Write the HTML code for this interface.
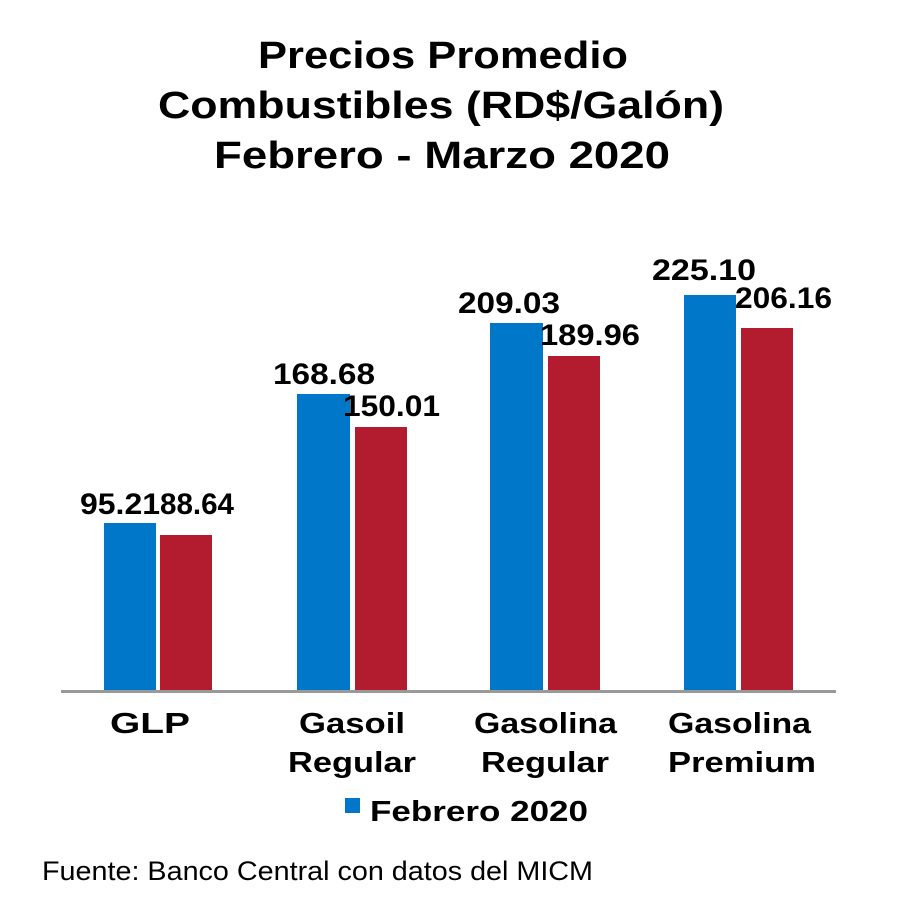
<!DOCTYPE html>
<html><head><style>body{margin:0;background:#fff}</style></head><body>
<svg width="909" height="909" xmlns="http://www.w3.org/2000/svg" font-family="Liberation Sans, sans-serif">
<rect width="909" height="909" fill="#fff"/>
<g font-weight="bold" font-size="38" fill="#000" lengthAdjust="spacingAndGlyphs">
<text x="258" y="68" textLength="370" lengthAdjust="spacingAndGlyphs">Precios Promedio</text>
<text x="158" y="118" textLength="566" lengthAdjust="spacingAndGlyphs">Combustibles (RD$/Galón)</text>
<text x="214" y="168" textLength="456" lengthAdjust="spacingAndGlyphs">Febrero - Marzo 2020</text>
</g>
<g fill="#0077c8">
<rect x="104" y="523" width="52" height="168"/>
<rect x="297" y="394" width="53" height="297"/>
<rect x="490" y="323" width="53" height="368"/>
<rect x="684" y="295" width="52" height="396"/>
</g>
<g fill="#b31b2e">
<rect x="160" y="535" width="52" height="156"/>
<rect x="355" y="427" width="52" height="264"/>
<rect x="548" y="356" width="52" height="335"/>
<rect x="741" y="328" width="52" height="363"/>
</g>
<rect x="61" y="690" width="775" height="3" fill="#999"/>
<g font-weight="bold" font-size="30" fill="#000">
<text x="80" y="514" textLength="80" lengthAdjust="spacingAndGlyphs">95.21</text>
<text x="160" y="514" textLength="74" lengthAdjust="spacingAndGlyphs">88.64</text>
<text x="273" y="384" textLength="102" lengthAdjust="spacingAndGlyphs">168.68</text>
<text x="343" y="416" textLength="97" lengthAdjust="spacingAndGlyphs">150.01</text>
<text x="458" y="313" textLength="102" lengthAdjust="spacingAndGlyphs">209.03</text>
<text x="540" y="345" textLength="100" lengthAdjust="spacingAndGlyphs">189.96</text>
<text x="652" y="280" textLength="104" lengthAdjust="spacingAndGlyphs">225.10</text>
<text x="735" y="308" textLength="97" lengthAdjust="spacingAndGlyphs">206.16</text>
</g>
<g font-weight="bold" font-size="29" fill="#000">
<text x="110" y="733" textLength="80" lengthAdjust="spacingAndGlyphs">GLP</text>
<text x="299" y="733" textLength="106" lengthAdjust="spacingAndGlyphs">Gasoil</text>
<text x="288" y="772" textLength="128" lengthAdjust="spacingAndGlyphs">Regular</text>
<text x="474" y="733" textLength="143" lengthAdjust="spacingAndGlyphs">Gasolina</text>
<text x="481" y="772" textLength="128" lengthAdjust="spacingAndGlyphs">Regular</text>
<text x="668" y="733" textLength="143" lengthAdjust="spacingAndGlyphs">Gasolina</text>
<text x="668" y="772" textLength="148" lengthAdjust="spacingAndGlyphs">Premium</text>
</g>
<rect x="345" y="798" width="15" height="15" fill="#0077c8"/>
<text x="370" y="821" font-weight="bold" font-size="29" fill="#000" textLength="218" lengthAdjust="spacingAndGlyphs">Febrero 2020</text>
<text x="42" y="880" font-size="27" fill="#000" textLength="551" lengthAdjust="spacingAndGlyphs">Fuente: Banco Central con datos del MICM</text>
</svg>
</body></html>
